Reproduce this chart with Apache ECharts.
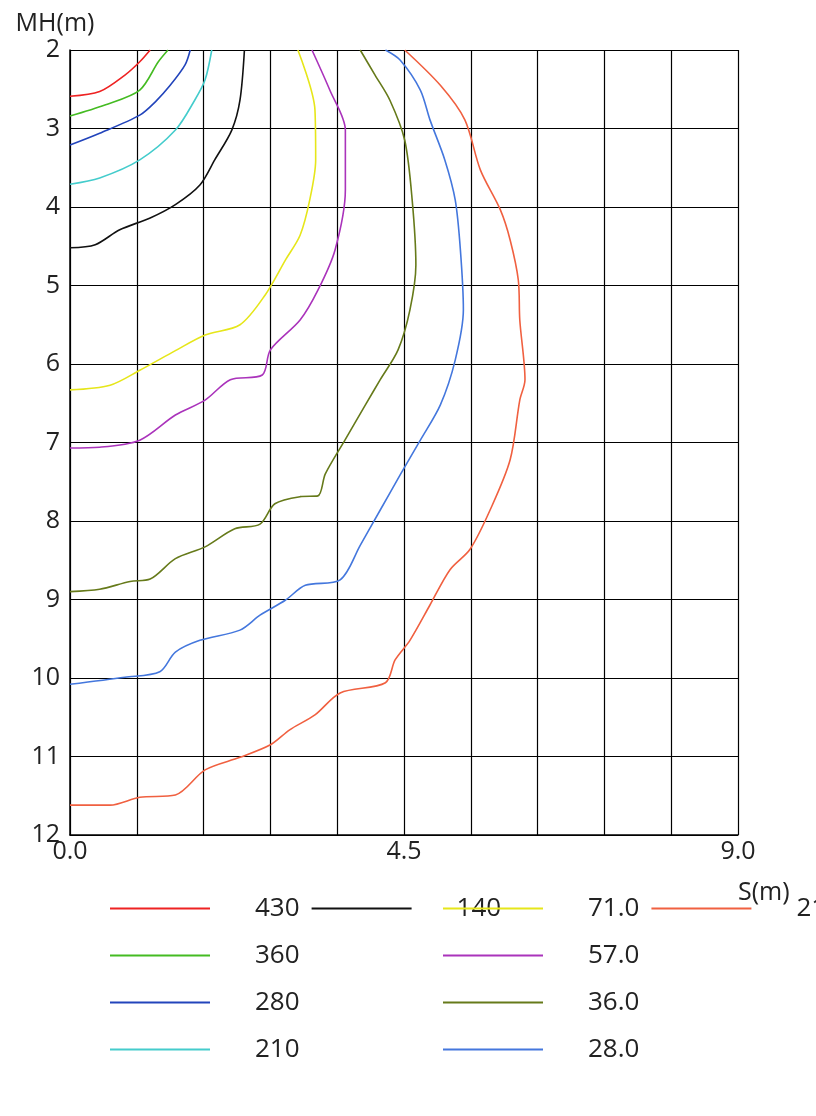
<!DOCTYPE html><html><head><meta charset="utf-8"><script src="https://cdn.jsdelivr.net/npm/echarts@6/dist/echarts.min.js"></script></head><body style="margin:0"><div id="c" style="width:816px;height:1116px"></div><script>
const names=['430','360','280','210','140','71.0','57.0','36.0','28.0','21.0'];
const colors=['#ee2222','#44bb22','#2244bb','#44cccc','#111111','#e6e61a','#aa33bb','#667a1a','#4477dd','#f06040'];
const xs=[
[0,0.4,0.74,0.94,1.08],
[0,0.47,0.94,1.19,1.32],
[0,0.4,0.94,1.15,1.35,1.55,1.62],
[0,0.4,0.94,1.42,1.68,1.82,1.91],
[0,0.34,0.67,1.08,1.42,1.75,1.95,2.18,2.29,2.35],
[0,0.54,0.94,1.42,1.82,2.29,2.63,2.90,3.10,3.23,3.31,3.30,3.07],
[0,0.4,0.94,1.42,1.82,2.16,2.59,2.70,3.10,3.34,3.57,3.71,3.71,3.50,3.26],
[0,0.40,0.81,1.08,1.42,1.82,2.22,2.56,2.76,3.10,3.34,3.44,3.71,3.98,4.18,4.42,4.58,4.66,4.61,4.51,4.31,4.11,3.91],
[0,0.74,1.21,1.42,1.75,2.29,2.56,2.90,3.17,3.64,3.91,4.18,4.45,4.72,4.99,5.19,5.30,5.26,5.19,5.05,4.85,4.72,4.45,4.25],
[0,0.54,0.94,1.42,1.82,2.29,2.70,2.96,3.30,3.64,4.25,4.38,4.58,4.85,5.12,5.39,5.66,5.93,6.06,6.13,6.06,6.04,5.93,5.80,5.53,5.32,4.99,4.51]];
const ys=[
[2.59,2.53,2.32,2.15,2.0],
[2.84,2.70,2.51,2.15,2.0],
[3.21,3.06,2.83,2.66,2.45,2.19,2.0],
[3.71,3.63,3.40,3.02,2.64,2.38,2.0],
[4.52,4.48,4.29,4.14,3.97,3.72,3.40,3.02,2.64,2.0],
[6.33,6.27,6.08,5.83,5.63,5.50,5.12,4.68,4.36,3.91,3.40,2.76,2.0],
[7.07,7.06,6.97,6.65,6.46,6.20,6.14,5.82,5.44,5.06,4.55,3.78,3.02,2.51,2.0],
[8.90,8.87,8.77,8.74,8.48,8.33,8.10,8.04,7.78,7.69,7.68,7.40,6.96,6.52,6.20,5.82,5.31,4.74,3.91,3.15,2.64,2.32,2.0],
[10.08,9.99,9.92,9.67,9.52,9.39,9.20,9.01,8.82,8.75,8.31,7.86,7.41,6.97,6.52,5.95,5.31,4.55,3.91,3.40,2.89,2.51,2.13,2.0],
[11.62,11.62,11.52,11.49,11.17,11.01,10.85,10.66,10.47,10.19,10.06,9.77,9.52,9.07,8.62,8.36,7.86,7.22,6.46,6.20,5.44,4.93,4.42,4.04,3.53,2.89,2.45,2.0]];
const series=names.map((n,i)=>({name:n,type:'line',showSymbol:false,smooth:0.3,color:colors[i],lineStyle:{width:1.6,color:colors[i]},data:xs[i].map((x,j)=>[x,ys[i][j]])}));
const ff='"Open Sans", sans-serif';
const leg=(left,data)=>({orient:'vertical',left:left,top:886,itemWidth:100,itemHeight:14,itemGap:12,data:data,icon:'path://M0,6L100,6L100,8L0,8Z',textStyle:{fontSize:26,color:'#222',fontFamily:ff,padding:[0,0,0,40],lineHeight:35}});
const chart=echarts.init(document.getElementById('c'));
chart.setOption({animation:false,
grid:{left:70,right:78,top:50,bottom:281},
xAxis:{type:'value',min:0,max:9,interval:0.9,name:'S(m)',nameLocation:'end',nameGap:0,nameTextStyle:{fontSize:25,color:'#222',fontFamily:ff,verticalAlign:'top',padding:[45,0,0,0],align:'left'},
 axisLine:{lineStyle:{color:'#000',width:1.5}},axisTick:{show:false},
 axisLabel:{fontSize:25,color:'#222',fontFamily:ff,margin:4,formatter:v=>(Math.abs(v-0)<1e-6||Math.abs(v-4.5)<1e-6||Math.abs(v-9)<1e-6)?v.toFixed(1):''},
 splitLine:{lineStyle:{color:'#000',width:1.2}}},
yAxis:{type:'value',inverse:true,min:2,max:12,interval:1,name:'MH(m)',nameLocation:'start',nameGap:14,nameTextStyle:{fontSize:25,color:'#222',fontFamily:ff,padding:[0,0,0,-30]},
 axisLine:{lineStyle:{color:'#000',width:1.5}},axisTick:{show:false},
 axisLabel:{fontSize:25,color:'#222',fontFamily:ff,margin:10},
 splitLine:{lineStyle:{color:'#000',width:1.2}}},
legend:[leg(105,names.slice(0,5)),leg(438,names.slice(5))],
series:series});
</script></body></html>
